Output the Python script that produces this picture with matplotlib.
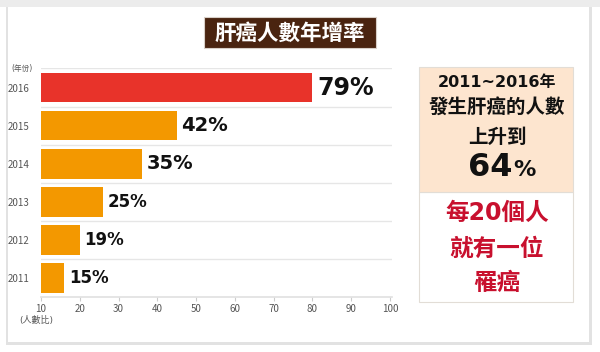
import matplotlib
matplotlib.use("Agg")
import matplotlib.pyplot as plt
from matplotlib.patches import Rectangle

plt.rcParams["font.family"] = ["Noto Sans CJK TC", "DejaVu Sans"]
MIX = ["DejaVu Sans", "Noto Sans CJK TC"]

years = ["2011", "2012", "2013", "2014", "2015", "2016"]
bar_values = [16, 20, 26, 36, 45, 80]
value_labels = ["15%", "19%", "25%", "35%", "42%", "79%"]
label_sizes = [12, 12, 12, 14, 14, 17]
bar_colors = ["#f39800"] * 5 + ["#e8332a"]
x_ticks = [10, 20, 30, 40, 50, 60, 70, 80, 90, 100]

fig = plt.figure(figsize=(6, 3.52), dpi=100)
fig.patch.set_facecolor("white")

# card with soft shadow
fig.patches.append(Rectangle((0.0, 1 - 7 / 352), 1.0, 7 / 352, transform=fig.transFigure,
                             facecolor="#ececec", edgecolor="none", zorder=0))
fig.patches.append(Rectangle((6 / 600, 7 / 352), 586 / 600, 338 / 352, transform=fig.transFigure,
                             facecolor="#e2e2e2", edgecolor="none", zorder=0))
fig.patches.append(Rectangle((8 / 600, 10 / 352), 581 / 600, 335 / 352, transform=fig.transFigure,
                             facecolor="white", edgecolor="none", zorder=0))

# title box
fig.patches.append(Rectangle((204 / 600, 1 - 48 / 352), 172 / 600, 31 / 352, transform=fig.transFigure,
                             facecolor="#4a2410", edgecolor="#d8cfc8", linewidth=0.8, zorder=1))
fig.text(290 / 600, 1 - 33 / 352, "肝癌人數年增率", color="white", fontsize=15.5,
         fontweight="bold", ha="center", va="center")

ax = fig.add_axes([41 / 600, 1 - 297 / 352, 351 / 600, 229.3 / 352])
ax.set_zorder(3)
ax.set_facecolor("none")
y = list(range(len(years)))
ax.barh(y, bar_values, height=0.78, color=bar_colors, zorder=3)
for yi, v, lab, fs in zip(y, bar_values, value_labels, label_sizes):
    ax.text(v + 1.2, yi, lab, fontsize=fs, fontweight="bold", color="#111111",
            ha="left", va="center", family=["DejaVu Sans"], zorder=4)

ax.set_xlim(10, 100.5)
ax.set_ylim(-0.5, 5.52)
for b in [k + 0.5 for k in range(0, 6)]:
    ax.axhline(b, color="#e6e6e6", linewidth=1.0, zorder=1)
ax.set_xticks(x_ticks)
ax.set_xticklabels([str(t) for t in x_ticks], fontsize=7, color="#555555")
ax.set_yticks(y)
ax.set_yticklabels(years, fontsize=7, color="#555555")
ax.tick_params(axis="y", length=0, pad=8)
ax.tick_params(axis="x", length=3, color="#cccccc", pad=2)
for s in ["top", "right", "left"]:
    ax.spines[s].set_visible(False)
ax.spines["bottom"].set_color("#e0e0e0")
ax.spines["bottom"].set_linewidth(1.2)

fig.text(22 / 600, 1 - 68 / 352, "(年份)", fontsize=5.5, color="#555555", ha="center", va="center",
         family=MIX)
fig.text(36 / 600, 1 - 320 / 352, "(人數比)", fontsize=6.5, color="#555555", ha="center", va="center",
         family=MIX)

# right info panel
fig.patches.append(Rectangle((419 / 600, 1 - 302 / 352), 154 / 600, 110 / 352, transform=fig.transFigure,
                             facecolor="white", edgecolor="#e2ddd6", linewidth=0.8, zorder=1))
fig.patches.append(Rectangle((419 / 600, 1 - 192 / 352), 154 / 600, 125 / 352, transform=fig.transFigure,
                             facecolor="#fde5cf", edgecolor="#e2ddd6", linewidth=0.8, zorder=1))
cx = 497 / 600
fig.text(cx, 1 - 83 / 352, "2011~2016年", fontsize=11.5, fontweight="bold", color="#111111",
         ha="center", va="center", family=MIX)
fig.text(cx, 1 - 107 / 352, "發生肝癌的人數", fontsize=14, fontweight="bold", color="#111111",
         ha="center", va="center")
fig.text(cx, 1 - 137 / 352, "上升到", fontsize=14, fontweight="bold", color="#111111",
         ha="center", va="center")
fig.text(512 / 600, 1 - 168 / 352, "64", fontsize=23, fontweight="bold", color="#111111",
         ha="right", va="center", family=["DejaVu Sans"])
fig.text(513 / 600, 1 - 170 / 352, "%", fontsize=16, fontweight="bold", color="#111111",
         ha="left", va="center", family=["DejaVu Sans"])
red = "#c8102e"
fig.text(cx, 1 - 213 / 352, "每20個人", fontsize=17, fontweight="bold", color=red, ha="center",
         va="center", family=MIX)
fig.text(cx, 1 - 249 / 352, "就有一位", fontsize=17, fontweight="bold", color=red, ha="center", va="center")
fig.text(cx, 1 - 283 / 352, "罹癌", fontsize=17, fontweight="bold", color=red, ha="center", va="center")

fig.savefig("out.png", dpi=100)
